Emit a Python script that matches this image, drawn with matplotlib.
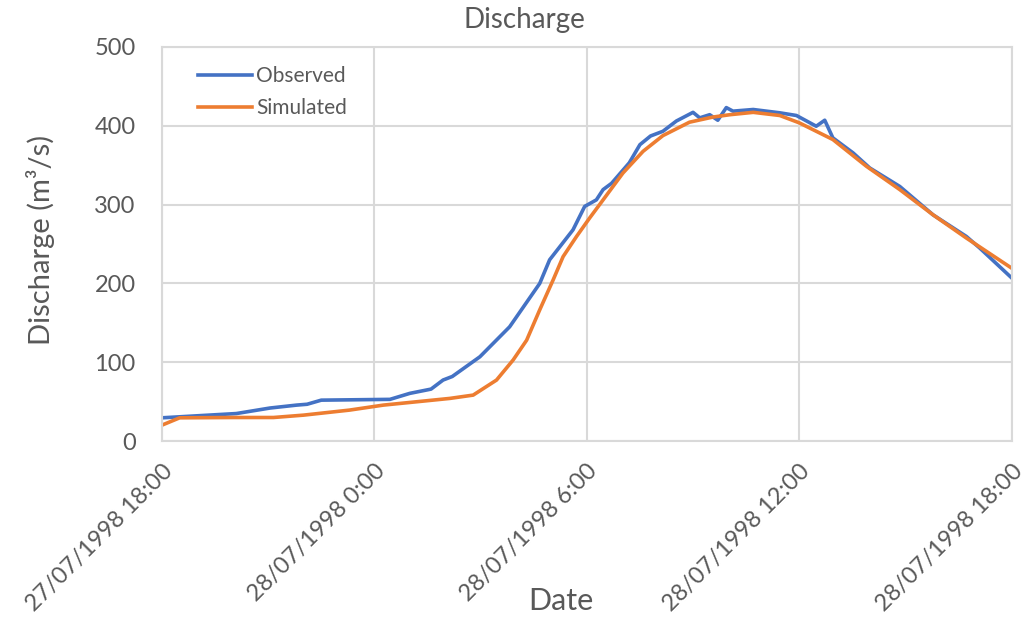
import pandas as pd
import matplotlib
matplotlib.use("Agg")
import matplotlib.pyplot as plt

plt.rcParams['font.family'] = ['Lato', 'DejaVu Sans']

start = pd.Timestamp("1998-07-27 18:00")

# hours after start, discharge in m3/s
obs_hours = [0, 2.1, 3.05, 3.8, 4.1, 4.5, 6.44, 7.0, 7.6, 7.94, 8.2, 8.98, 9.82,
             10.67, 10.95, 11.61, 11.94, 12.27, 12.46, 12.7, 13.2, 13.5, 13.8,
             14.15, 14.53, 15.0, 15.19, 15.47, 15.7, 15.94, 16.13, 16.7, 17.45,
             17.92, 18.48, 18.72, 18.95, 19.52, 19.99, 20.84, 21.78, 22.72,
             23.1, 24.0]
observed = [29.6, 35, 42, 45.7, 46.8, 52, 53, 60.6, 66, 77.5, 82, 107, 145,
            200, 230, 268, 297.7, 306, 319, 327, 353, 376, 387, 393, 406, 417,
            410, 414, 407, 423, 418.5, 420.6, 416.4, 413, 399.4, 407, 384.6,
            365.6, 346.5, 323, 287, 259.6, 244.8, 207]

sim_hours = [0, 0.5, 2.0, 3.15, 4.0, 5.3, 6.25, 7.47, 8.13, 8.79, 9.45, 9.92,
             10.3, 10.67, 11.05, 11.33, 11.71, 12.08, 12.46, 13.02, 13.59,
             14.15, 14.9, 15.56, 16.04, 16.7, 17.45, 18.0, 18.95, 19.9, 20.84,
             21.78, 22.72, 24.0]
simulated = [20.3, 29.6, 30, 30, 33, 39.4, 45.7, 51.2, 54.2, 58.4, 77.5, 103,
             128, 166.5, 204.6, 234, 259.6, 283, 306, 340, 367.6, 387.5, 404.5,
             411, 414, 417, 413, 403.7, 382.5, 348.5, 319, 287, 257.6, 219.4]

tick_hours = [0, 6, 12, 18, 24]
tick_labels = ["27/07/1998 18:00", "28/07/1998 0:00", "28/07/1998 6:00",
               "28/07/1998 12:00", "28/07/1998 18:00"]

obs_dates = start + pd.to_timedelta(obs_hours, unit="h")
sim_dates = start + pd.to_timedelta(sim_hours, unit="h")
tick_dates = start + pd.to_timedelta(tick_hours, unit="h")

grey = "#595959"
grid = "#d9d9d9"

fig = plt.figure(figsize=(10.25, 6.17), dpi=100)
ax = fig.add_axes([0.158, 0.285, 0.829, 0.639])

ax.plot(obs_dates, observed, color="#4472C4", lw=2.6, label="Observed")
ax.plot(sim_dates, simulated, color="#ED7D31", lw=2.6, label="Simulated")

ax.set_xlim(tick_dates[0], tick_dates[-1])
ax.set_ylim(0, 500)
ax.set_yticks([0, 100, 200, 300, 400, 500])
ax.set_xticks(tick_dates)
ax.set_xticklabels(tick_labels, rotation=45, ha="right", rotation_mode="anchor")

ax.grid(True, color=grid, lw=1.5)
ax.set_axisbelow(True)
for s in ax.spines.values():
    s.set_color(grid)
    s.set_linewidth(1.5)
ax.tick_params(length=0, colors=grey, labelsize=17)
ax.tick_params(axis="y", pad=19)
ax.tick_params(axis="x", pad=14)

fig.text(463 / 1025, 1 - 20 / 617, "Discharge", color=grey, fontsize=20,
         ha="left", va="center")
fig.text(41 / 1025, 1 - 240 / 617, "Discharge (m³/s)", color=grey, fontsize=21,
         rotation=90, ha="center", va="center")
fig.text(561 / 1025, 1 - 601 / 617, "Date", color=grey, fontsize=22,
         ha="center", va="center")

ax.legend(loc="upper left", frameon=False, fontsize=15, labelcolor=grey,
          handlelength=2.6, handletextpad=0.2, labelspacing=0.6,
          borderpad=0, borderaxespad=0, bbox_to_anchor=(0.042, 0.952))

fig.savefig("out.png", dpi=100)
